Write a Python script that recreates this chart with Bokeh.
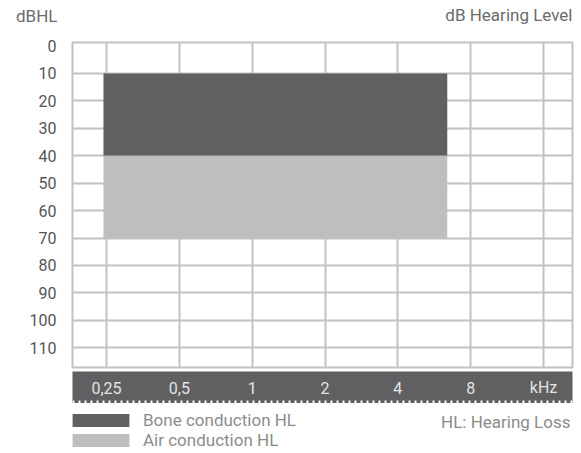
import numpy as np
from bokeh.plotting import figure
from bokeh.models import Range1d, FixedTicker, ColumnDataSource, Label, Legend, LegendItem, Span
from bokeh.layouts import column
from bokeh.core.properties import value
from bokeh.embed import file_html
from bokeh.resources import INLINE

# ---------------- data ----------------
FREQ_KHZ = [0.25, 0.5, 1, 2, 4, 8, 16]
FREQ_LABELS = ["0,25", "0,5", "1", "2", "4", "8", "kHz"]
DB_TICKS = [0, 10, 20, 30, 40, 50, 60, 70, 80, 90, 100, 110]
DB_GRID = [10, 20, 30, 40, 50, 60, 70, 80, 90, 100, 110]

BAND_NAMES = ["Bone conduction HL", "Air conduction HL"]
BAND_DB_FROM = [10, 40]
BAND_DB_TO = [40, 70]
BAND_KHZ_FROM = [0.243, 0.243]
BAND_KHZ_TO = [6.4, 6.4]

Y_UNIT = "dBHL"
Y_TITLE = "dB Hearing Level"
NOTE = "HL: Hearing Loss"

# ---------------- style ----------------
DARK = "#606062"
LIGHT = "#bdbec0"
GRID = "#c2c2c4"
FONT = "Roboto"
BAND_COLORS = [DARK, LIGHT]

X_RANGE = (np.log2(0.25) - 0.466, np.log2(16) + 0.397)   # octaves (log2 kHz)
Y_RANGE = (117.2, -1.3)                                  # dB, inverted

source = ColumnDataSource(dict(
    left=np.log2(BAND_KHZ_FROM),
    right=np.log2(BAND_KHZ_TO),
    top=BAND_DB_FROM,
    bottom=BAND_DB_TO,
    color=BAND_COLORS,
))

W = 581


def bare(fig, bg="white"):
    fig.background_fill_color = bg
    fig.border_fill_color = "white"
    fig.outline_line_color = None
    fig.grid.visible = False
    return fig


def quiet_axis(ax, size, color, standoff):
    ax.axis_line_color = None
    ax.major_tick_line_color = None
    ax.minor_tick_line_color = None
    ax.major_tick_out = 0
    ax.major_tick_in = 0
    ax.major_label_standoff = standoff
    ax.major_label_text_font = FONT
    ax.major_label_text_font_size = size
    ax.major_label_text_color = color


# ---------------- header (unit + title) ----------------
h = bare(figure(width=W, height=30, title=None,
                x_range=Range1d(0, 1), y_range=Range1d(0, 30),
                x_axis_location=None, y_axis_location="left",
                toolbar_location=None, output_backend="svg",
                min_border_left=72, min_border_right=9,
                min_border_top=0, min_border_bottom=0))
hy = h.yaxis[0]
hy.ticker = FixedTicker(ticks=[15])
hy.major_label_overrides = {15: Y_UNIT}
quiet_axis(hy, "17px", "#6b6b6b", 15)
h.add_layout(Label(x=500, y=16, x_units="screen", y_units="screen", text=Y_TITLE,
                   text_font=FONT, text_font_size="17px", text_color="#6b6b6b",
                   text_baseline="alphabetic", text_align="right"))

# ---------------- main chart ----------------
p = figure(width=W, height=341, title=None,
           x_range=Range1d(*X_RANGE), y_range=Range1d(*Y_RANGE),
           x_axis_location=None, y_axis_location="left",
           toolbar_location=None, output_backend="svg",
           min_border_left=72, min_border_right=9,
           min_border_top=12, min_border_bottom=4)
p.background_fill_color = "white"
p.border_fill_color = "white"
p.outline_line_color = GRID
p.outline_line_width = 2

p.xgrid.ticker = FixedTicker(ticks=list(np.log2(FREQ_KHZ)))
p.ygrid.ticker = FixedTicker(ticks=DB_GRID)
for g in (p.xgrid, p.ygrid):
    g.grid_line_color = GRID
    g.grid_line_width = 2

p.quad(left="left", right="right", top="top", bottom="bottom",
       fill_color="color", line_color=None, source=source)

ya = p.yaxis[0]
ya.ticker = FixedTicker(ticks=DB_TICKS)
quiet_axis(ya, "16px", "#555555", 16)

# ---------------- frequency band ----------------
b = bare(figure(width=W, height=32, title=None,
                x_range=p.x_range, y_range=Range1d(0, 1),
                x_axis_location=None, y_axis_location=None,
                toolbar_location=None, output_backend="svg",
                min_border_left=72, min_border_right=8,
                min_border_top=0, min_border_bottom=0), bg=DARK)
b.text(x=np.log2(FREQ_KHZ), y=0.5, text=FREQ_LABELS,
       text_font=value(FONT), text_font_size="16px", text_color="#e4e4e4",
       text_align="center", text_baseline="middle")
b.add_layout(Span(location=0.047, dimension="width", line_color="white",
                  line_width=3, line_dash="2 4"))

# ---------------- legend ----------------
lg = bare(figure(width=W, height=50, title=None,
                 x_axis_location=None, y_axis_location=None,
                 toolbar_location=None, output_backend="svg",
                 min_border_left=72, min_border_right=9,
                 min_border_top=0, min_border_bottom=0))
r = lg.quad(left="left", right="right", top="top", bottom="bottom",
            fill_color="color", line_color=None, source=source, visible=False)
legend = Legend(items=[LegendItem(label=BAND_NAMES[i], renderers=[r], index=i) for i in range(2)],
                location=(-7, 3), orientation="vertical",
                glyph_width=71, glyph_height=16, label_standoff=7,
                label_text_font=FONT, label_text_font_size="17px", label_text_color="#8c8c8c",
                padding=0, margin=0, spacing=0,
                border_line_color=None, background_fill_alpha=0)
lg.add_layout(legend)
lg.add_layout(Label(x=498, y=32, x_units="screen", y_units="screen", text=NOTE,
                    text_font=FONT, text_font_size="17px", text_color="#8c8c8c",
                    text_baseline="middle", text_align="right"))

layout = column(h, p, b, lg, spacing=0)
open("out.html", "w").write(file_html(layout, INLINE))
